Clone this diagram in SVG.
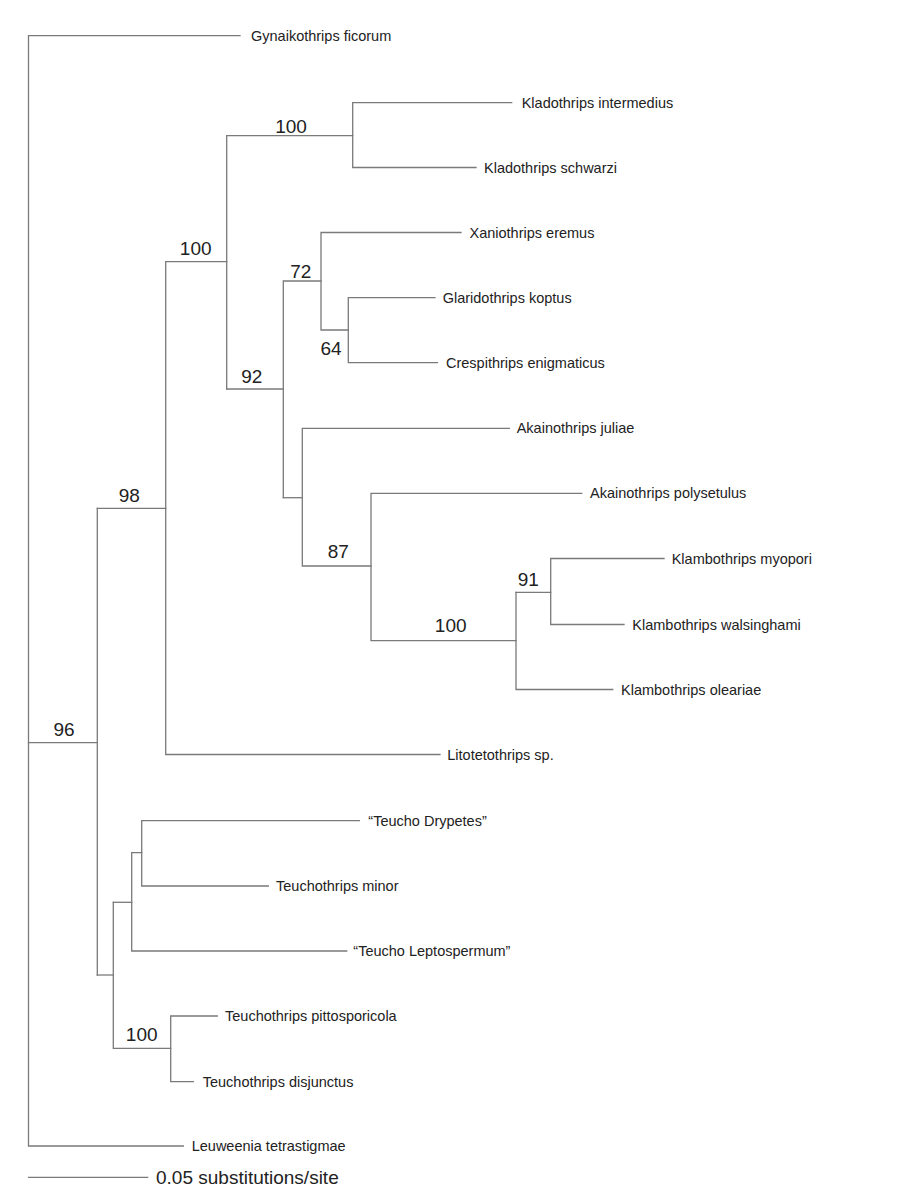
<svg xmlns="http://www.w3.org/2000/svg" width="900" height="1193" viewBox="0 0 900 1193">
<style>
.br{fill:none;stroke:#7a7a7a;stroke-width:1.3;stroke-linecap:square}
.leaf{font-family:"Liberation Sans",Arial,sans-serif;font-size:14.5px;fill:#222}
.sup{font-family:"Liberation Sans",Arial,sans-serif;font-size:19px;fill:#222;text-anchor:middle}
.scale{font-family:"Liberation Sans",Arial,sans-serif;font-size:19px;fill:#222}
</style>
<rect width="900" height="1193" fill="#fff"/>
<g id="connectors" class="br">
<path d="M240,35.7H28.5V1146H183.3"/>
<path d="M28.5,742.7H97.3"/>
<path d="M97.3,508.3V975"/>
<path d="M97.3,508.3H165.7V754.5H440"/>
<path d="M165.7,261.7V508.3"/>
<path d="M165.7,261.7H226.7V389"/>
<path d="M226.7,261.7V135.7H352.7"/>
<path d="M511.7,102.7H352.7V167.5H476"/>
<path d="M226.7,389H283.3"/>
<path d="M321,281H283.3V497.7"/>
<path d="M461,232.5H321V330H348.3"/>
<path d="M435,297.7H348.3V362.7H437.5"/>
<path d="M283.3,497.7H302.3"/>
<path d="M509.3,428.3H302.3V566H371"/>
<path d="M581.7,493.3H371V640.7H516"/>
<path d="M516,592.3V689.5H612.7"/>
<path d="M516,592.3H550.7"/>
<path d="M664,558.5H550.7V624.5H624"/>
<path d="M97.3,975H113.3"/>
<path d="M113.3,902.3V1048.3H170.7"/>
<path d="M113.3,902.3H131.7"/>
<path d="M141.7,852.7H131.7V951H346.7"/>
<path d="M359.3,820.7H141.7V886H268.3"/>
<path d="M217.3,1016H170.7V1081.7H193.3"/>
<path d="M28.7,1177.3H147.7"/>
</g>
<g id="leaf-gynaikothrips-ficorum"><text class="leaf" x="251" y="40.7">Gynaikothrips ficorum</text></g>
<g id="leaf-kladothrips-intermedius"><text class="leaf" x="521.7" y="107.7">Kladothrips intermedius</text></g>
<g id="leaf-kladothrips-schwarzi"><text class="leaf" x="484" y="172.5">Kladothrips schwarzi</text></g>
<g id="leaf-xaniothrips-eremus"><text class="leaf" x="469.5" y="237.5">Xaniothrips eremus</text></g>
<g id="leaf-glaridothrips-koptus"><text class="leaf" x="442.7" y="302.7">Glaridothrips koptus</text></g>
<g id="leaf-crespithrips-enigmaticus"><text class="leaf" x="446" y="367.7">Crespithrips enigmaticus</text></g>
<g id="leaf-akainothrips-juliae"><text class="leaf" x="516.7" y="433.3">Akainothrips juliae</text></g>
<g id="leaf-akainothrips-polysetulus"><text class="leaf" x="590" y="498.3">Akainothrips polysetulus</text></g>
<g id="leaf-klambothrips-myopori"><text class="leaf" x="671.7" y="563.5">Klambothrips myopori</text></g>
<g id="leaf-klambothrips-walsinghami"><text class="leaf" x="632.3" y="629.5">Klambothrips walsinghami</text></g>
<g id="leaf-klambothrips-oleariae"><text class="leaf" x="621" y="694.5">Klambothrips oleariae</text></g>
<g id="leaf-litotetothrips-sp"><text class="leaf" x="447.3" y="759.5">Litotetothrips sp.</text></g>
<g id="leaf-teucho-drypetes"><text class="leaf" x="368.3" y="825.7">“Teucho Drypetes”</text></g>
<g id="leaf-teuchothrips-minor"><text class="leaf" x="276" y="891">Teuchothrips minor</text></g>
<g id="leaf-teucho-leptospermum"><text class="leaf" x="353.3" y="956">“Teucho Leptospermum”</text></g>
<g id="leaf-teuchothrips-pittosporicola"><text class="leaf" x="225" y="1021">Teuchothrips pittosporicola</text></g>
<g id="leaf-teuchothrips-disjunctus"><text class="leaf" x="202.7" y="1086.7">Teuchothrips disjunctus</text></g>
<g id="leaf-leuweenia-tetrastigmae"><text class="leaf" x="191.7" y="1151">Leuweenia tetrastigmae</text></g>
<g id="support-kladothrips"><text class="sup" x="291" y="132.7">100</text></g>
<g id="support-100-upper"><text class="sup" x="195.7" y="255">100</text></g>
<g id="support-72"><text class="sup" x="300.7" y="278.3">72</text></g>
<g id="support-64"><text class="sup" x="331" y="355">64</text></g>
<g id="support-92"><text class="sup" x="251.7" y="382.7">92</text></g>
<g id="support-87"><text class="sup" x="338.3" y="558.3">87</text></g>
<g id="support-klambothrips"><text class="sup" x="450.7" y="632.3">100</text></g>
<g id="support-91"><text class="sup" x="528.3" y="585.7">91</text></g>
<g id="support-98"><text class="sup" x="129.3" y="501.7">98</text></g>
<g id="support-96"><text class="sup" x="64" y="736">96</text></g>
<g id="support-teuchothrips"><text class="sup" x="141.7" y="1041">100</text></g>
<g id="scale-bar"><text class="scale" x="156" y="1184">0.05 substitutions/site</text></g>
</svg>
